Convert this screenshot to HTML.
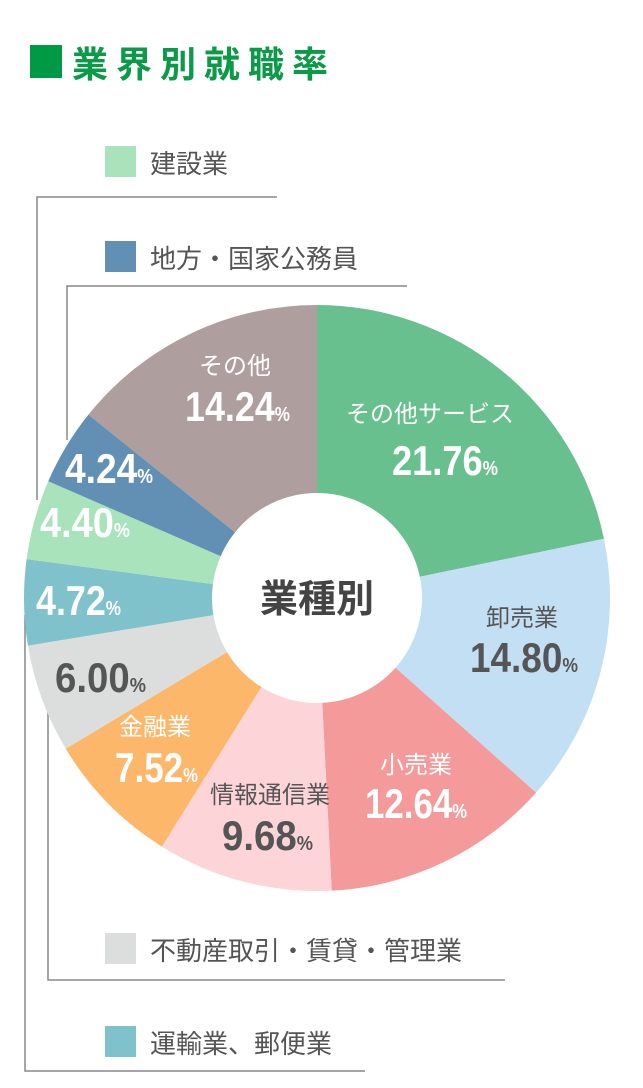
<!DOCTYPE html>
<html><head><meta charset="utf-8"><style>
body{margin:0;width:643px;height:1088px;background:#fff;overflow:hidden;font-family:"Liberation Sans","Noto Sans CJK JP",sans-serif}
svg{position:absolute;left:0;top:0}
</style></head><body>
<svg id="s" width="643" height="1088" viewBox="0 0 643 1088" font-family="'Liberation Sans','Noto Sans CJK JP',sans-serif">
<rect x="30" y="45" width="32" height="33" fill="#009a44"/>
<text x="72" y="77" font-size="36" font-weight="bold" fill="#0a9a48" letter-spacing="8">業界別就職率</text>
<rect x="105" y="146" width="31" height="31" fill="#a8e3bb"/>
<text x="150" y="173" font-size="26" fill="#555">建設業</text>
<rect x="105" y="241" width="31" height="31" fill="#6290b5"/>
<text x="150" y="268" font-size="26" fill="#555">地方・国家公務員</text>
<rect x="105" y="933" width="31" height="31" fill="#dcdddd"/>
<text x="150" y="960" font-size="26" fill="#555">不動産取引・賃貸・管理業</text>
<rect x="105" y="1026" width="31" height="31" fill="#7fc2cb"/>
<text x="150" y="1053" font-size="26" fill="#555">運輸業、郵便業</text>
<g fill="none" stroke="#888" stroke-width="1.5">
<polyline points="277,197 37,197 37,500"/>
<polyline points="407,286 67,286 67,440"/>
<polyline points="48,690 48,980 505,980"/>
<polyline points="25,615 25,1071 365,1071"/>
</g>
<g id="pie"></g>
<circle cx="317" cy="598" r="105" fill="#fff"/>
<text x="317" y="612" font-size="38" font-weight="bold" fill="#444" text-anchor="middle">業種別</text>
<g font-size="24" text-anchor="middle">
<text x="430" y="422" fill="#fff">その他サービス</text>
<text x="235" y="374" fill="#fff">その他</text>
<text x="522" y="626" fill="#555">卸売業</text>
<text x="416" y="773" fill="#fff">小売業</text>
<text x="270" y="803" fill="#555">情報通信業</text>
<text x="155" y="735" fill="#fff">金融業</text>
</g>
<g font-size="42" font-weight="bold">
<text x="392" y="475" fill="#fff" textLength="106" lengthAdjust="spacingAndGlyphs">21.76<tspan font-size="20">%</tspan></text>
<text x="470" y="672" fill="#555" textLength="108" lengthAdjust="spacingAndGlyphs">14.80<tspan font-size="20">%</tspan></text>
<text x="365" y="818" fill="#fff" textLength="102" lengthAdjust="spacingAndGlyphs">12.64<tspan font-size="20">%</tspan></text>
<text x="222" y="850" fill="#555" textLength="91" lengthAdjust="spacingAndGlyphs">9.68<tspan font-size="20">%</tspan></text>
<text x="115" y="782" fill="#fff" textLength="83" lengthAdjust="spacingAndGlyphs">7.52<tspan font-size="20">%</tspan></text>
<text x="55" y="692" fill="#555" textLength="91" lengthAdjust="spacingAndGlyphs">6.00<tspan font-size="20">%</tspan></text>
<text x="36" y="615" fill="#fff" textLength="85" lengthAdjust="spacingAndGlyphs">4.72<tspan font-size="20">%</tspan></text>
<text x="40" y="537" fill="#fff" textLength="90" lengthAdjust="spacingAndGlyphs">4.40<tspan font-size="20">%</tspan></text>
<text x="65" y="483" fill="#fff" textLength="88" lengthAdjust="spacingAndGlyphs">4.24<tspan font-size="20">%</tspan></text>
<text x="185" y="421" fill="#fff" textLength="105" lengthAdjust="spacingAndGlyphs">14.24<tspan font-size="20">%</tspan></text>
</g>
</svg>
<script>
var d=[[21.76,"#67c08e"],[14.80,"#c3dff3"],[12.64,"#f49a9a"],[9.68,"#fdd5d8"],[7.52,"#fdb76a"],[6.00,"#dcdddd"],[4.72,"#7fc2cb"],[4.40,"#a8e3bb"],[4.24,"#6290b5"],[14.24,"#ae9e9e"]];
var cx=317,cy=598,r=293,a=0,g=document.getElementById("pie"),h="";
d.forEach(function(e){var a2=a+e[0]/100*2*Math.PI;
var x1=cx+r*Math.sin(a),y1=cy-r*Math.cos(a),x2=cx+r*Math.sin(a2),y2=cy-r*Math.cos(a2);
h+='<path d="M'+cx+','+cy+'L'+x1+','+y1+'A'+r+','+r+' 0 '+(a2-a>Math.PI?1:0)+' 1 '+x2+','+y2+'Z" fill="'+e[1]+'"/>';a=a2;});
g.innerHTML=h;
</script>
</body></html>
